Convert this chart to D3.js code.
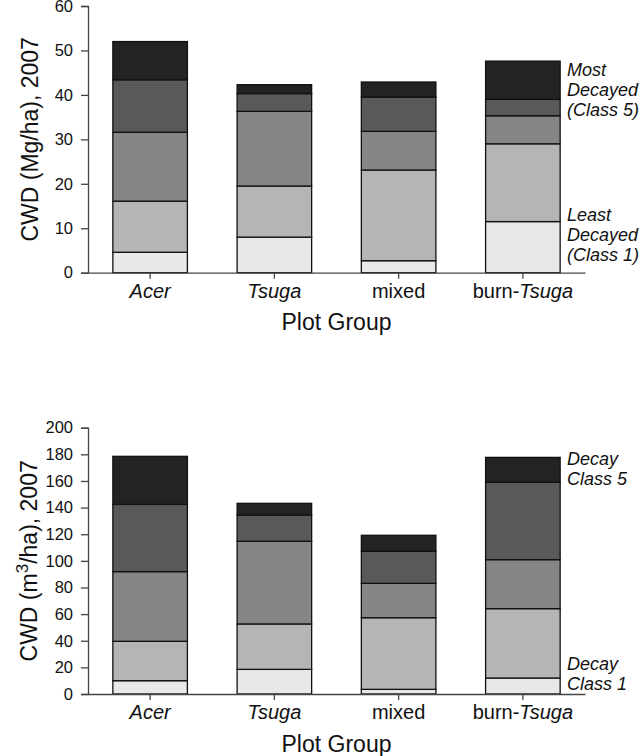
<!DOCTYPE html>
<html>
<head>
<meta charset="utf-8">
<script src="https://cdn.jsdelivr.net/npm/d3@7"></script>
<style>
  html, body { margin: 0; padding: 0; background: #fff; }
  svg { display: block; font-family: "Liberation Sans", Arial, sans-serif; }
</style>
</head>
<body>
<svg id="chart" width="640" height="756"></svg>
<script>
// ---- Data ----
const groups = ["Acer", "Tsuga", "mixed", "burn-Tsuga"];
const classes = ["Class 1", "Class 2", "Class 3", "Class 4", "Class 5"];

// Mass (Mg/ha) per decay class, per plot group (top panel)
const massClass1 = [4.6, 8.0, 2.7, 11.5];
const massClass2 = [11.5, 11.5, 20.4, 17.5];
const massClass3 = [15.5, 16.8, 8.7, 6.3];
const massClass4 = [11.8, 4.0, 7.7, 3.7];
const massClass5 = [8.6, 2.0, 3.4, 8.6];

// Volume (m3/ha) per decay class, per plot group (bottom panel)
const volClass1 = [10.0, 18.5, 3.5, 12.0];
const volClass2 = [29.6, 34.1, 53.8, 52.1];
const volClass3 = [52.3, 62.1, 25.8, 36.8];
const volClass4 = [50.5, 19.7, 24.1, 58.1];
const volClass5 = [36.1, 8.8, 12.0, 18.7];

const massTicks = [0, 10, 20, 30, 40, 50, 60];
const volTicks = [0, 20, 40, 60, 80, 100, 120, 140, 160, 180, 200];

const classColors = ["#e8e8e8", "#b5b5b5", "#858585", "#595959", "#232323"];

const svg = d3.select("#chart");
const axisColor = "#444";
const FONT = "'Liberation Sans', Arial, sans-serif";

function buildRows(series) {
  return groups.map((g, i) => {
    const row = { group: g };
    classes.forEach((c, k) => { row[c] = series[k][i]; });
    return row;
  });
}

function drawPanel(opts) {
  const { top, bottom, left, right, series, yMax, ticks, yTitle, annoTop, annoBottom } = opts;
  const x = d3.scaleBand().domain(groups).range([left, right]).paddingInner(0.4).paddingOuter(0.2);
  const y = d3.scaleLinear().domain([0, yMax]).range([bottom, top]);
  const g = svg.append("g");

  const stack = d3.stack().keys(classes)(buildRows(series));

  g.selectAll("g.layer").data(stack).join("g")
    .attr("class", "layer")
    .attr("fill", (d, i) => classColors[i])
    .selectAll("rect").data(d => d).join("rect")
      .attr("x", d => x(d.data.group))
      .attr("width", x.bandwidth())
      .attr("y", d => y(d[1]))
      .attr("height", d => y(d[0]) - y(d[1]))
      .attr("stroke", "#111")
      .attr("stroke-width", 1.3);

  // Y axis
  const yAxis = d3.axisLeft(y).tickValues(ticks).tickSize(7).tickPadding(8).tickFormat(d3.format("d"));
  const ya = g.append("g").attr("transform", `translate(${left},0)`).call(yAxis);
  ya.select(".domain").attr("stroke", axisColor).attr("stroke-width", 1.3);
  ya.selectAll(".tick line").attr("stroke", axisColor).attr("stroke-width", 1.3);
  ya.selectAll(".tick text").attr("fill", "#111").style("font-size", "16.5px")
    .style("font-family", FONT);

  // X axis
  const xAxis = d3.axisBottom(x).tickSize(6).tickSizeOuter(0).tickPadding(5);
  const xa = g.append("g").attr("transform", `translate(0,${bottom})`).call(xAxis);
  xa.select(".domain").attr("stroke", axisColor).attr("stroke-width", 1.3);
  xa.selectAll(".tick line").attr("stroke", axisColor).attr("stroke-width", 1.3);
  xa.selectAll(".tick text").attr("fill", "#111").style("font-size", "20px")
    .style("font-family", FONT)
    .text(null)
    .each(function (d) {
      const t = d3.select(this);
      if (d === "burn-Tsuga") {
        t.append("tspan").text("burn-");
        t.append("tspan").style("font-style", "italic").text("Tsuga");
      } else if (d === "mixed") {
        t.append("tspan").text(d);
      } else {
        t.append("tspan").style("font-style", "italic").text(d);
      }
    });

  // X title
  g.append("text")
    .attr("x", (left + right) / 2)
    .attr("y", bottom + 57.5)
    .attr("text-anchor", "middle")
    .style("font-size", "23px")
    .attr("fill", "#111")
    .text("Plot Group");

  // Y title
  const yt = g.append("text")
    .attr("transform", `translate(${opts.yTitleX},${(top + bottom) / 2}) rotate(-90)`)
    .attr("text-anchor", "middle")
    .style("font-size", "23px")
    .attr("fill", "#111");
  yTitle(yt);

  // Annotations
  const annX = right - 18;
  function anno(lines, yStart) {
    const t = g.append("text").attr("x", annX).attr("y", yStart)
      .style("font-size", "18px").style("font-style", "italic").attr("fill", "#111");
    lines.forEach((l, i) => t.append("tspan").attr("x", annX).attr("dy", i === 0 ? 0 : 20).text(l));
  }
  anno(annoTop.lines, annoTop.y);
  anno(annoBottom.lines, annoBottom.y);
}

drawPanel({
  top: 6, bottom: 272.7, left: 88, right: 585,
  series: [massClass1, massClass2, massClass3, massClass4, massClass5],
  yMax: 60, ticks: massTicks, yTitleX: 38,
  yTitle: t => t.text("CWD (Mg/ha), 2007"),
  annoTop: { lines: ["Most", "Decayed", "(Class 5)"], y: 76 },
  annoBottom: { lines: ["Least", "Decayed", "(Class 1)"], y: 221 }
});

drawPanel({
  top: 427.7, bottom: 694, left: 88, right: 585,
  series: [volClass1, volClass2, volClass3, volClass4, volClass5],
  yMax: 200, ticks: volTicks, yTitleX: 37,
  yTitle: t => {
    t.append("tspan").text("CWD (m");
    t.append("tspan").attr("dy", -9).style("font-size", "17px").text("3");
    t.append("tspan").attr("dy", 9).text("/ha), 2007");
  },
  annoTop: { lines: ["Decay", "Class 5"], y: 465 },
  annoBottom: { lines: ["Decay", "Class 1"], y: 670 }
});
</script>
</body>
</html>
